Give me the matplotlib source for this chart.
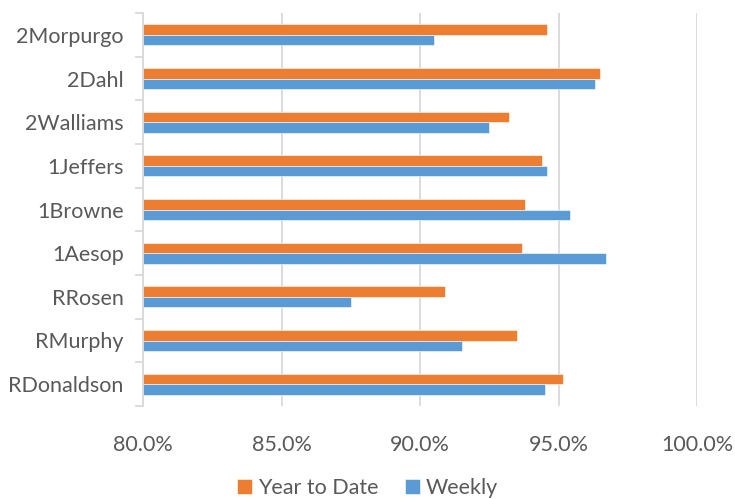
import matplotlib
matplotlib.use("Agg")
import matplotlib.pyplot as plt
import numpy as np
from matplotlib.ticker import FuncFormatter, FixedLocator

categories = ["2Morpurgo", "2Dahl", "2Walliams", "1Jeffers", "1Browne",
              "1Aesop", "RRosen", "RMurphy", "RDonaldson"]
year_to_date = [94.6, 96.5, 93.2, 94.4, 93.8, 93.7, 90.9, 93.5, 95.15]
weekly = [90.5, 96.3, 92.5, 94.6, 95.4, 96.7, 87.5, 91.5, 94.5]
xticks = [80, 85, 90, 95, 100]

plt.rcParams['font.family'] = ['Lato', 'DejaVu Sans']

fig = plt.figure(figsize=(7.35, 4.99), dpi=100)
ax = fig.add_axes([143/735, 1-406/499, (697-143)/735, (406-13)/499])

n = len(categories)
pos = np.arange(n)[::-1]
h = 0.24
base = 80
orange = "#ED7D31"
blue = "#5B9BD5"
ax.barh(pos + h/2, np.array(year_to_date) - base, left=base, height=h,
        color=orange, edgecolor="white", linewidth=0.4, label="Year to Date", zorder=3)
ax.barh(pos - h/2, np.array(weekly) - base, left=base, height=h,
        color=blue, edgecolor="white", linewidth=0.4, label="Weekly", zorder=3)

fs = 15.5
ax.set_xlim(80, 100)
ax.set_ylim(-0.5, n - 0.5)
ax.set_xticks(xticks)
ax.xaxis.set_major_formatter(FuncFormatter(lambda v, p: f"{v:.1f}%"))
ax.grid(axis="x", color="#d9d9d9", linewidth=1.3, zorder=0)
ax.tick_params(axis="x", length=0, pad=21, labelsize=fs, labelcolor="#595959")

ax.set_yticks(pos)
ax.set_yticklabels(categories)
ax.tick_params(axis="y", which="major", length=0, pad=14, labelsize=fs, labelcolor="#595959")
ax.yaxis.set_minor_locator(FixedLocator(np.arange(-0.5, n, 1.0)))
ax.tick_params(axis="y", which="minor", length=6, width=1.3, color="#d9d9d9", direction="out")

for s in ["top", "right", "bottom"]:
    ax.spines[s].set_visible(False)
ax.spines["left"].set_color("#d9d9d9")
ax.spines["left"].set_linewidth(1.3)
ax.spines["left"].set_zorder(4)

leg = fig.legend(loc="center", bbox_to_anchor=(0.5, 1-488/499), ncol=2, frameon=False,
                 fontsize=fs, handlelength=0.7, handleheight=0.7, handletextpad=0.3,
                 columnspacing=1.2)
for t in leg.get_texts():
    t.set_color("#595959")

fig.savefig("out.png", dpi=100)
